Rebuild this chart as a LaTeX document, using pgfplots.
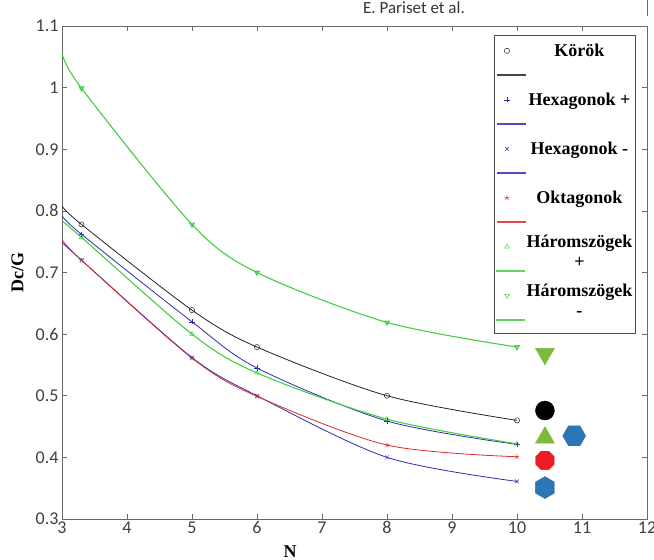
\documentclass[border=0pt]{standalone}
\usepackage{pgfplots}
\pgfplotsset{compat=1.18}
\usepackage{fontspec}
\setmainfont{Liberation Serif}
\newfontfamily\carlito{Carlito}
\usetikzlibrary{plotmarks}

\pgfdeclareplotmark{hexflat}{%
 \pgfpathmoveto{\pgfpointpolar{0}{\pgfplotmarksize}}%
 \pgfpathlineto{\pgfpointpolar{60}{\pgfplotmarksize}}%
 \pgfpathlineto{\pgfpointpolar{120}{\pgfplotmarksize}}%
 \pgfpathlineto{\pgfpointpolar{180}{\pgfplotmarksize}}%
 \pgfpathlineto{\pgfpointpolar{240}{\pgfplotmarksize}}%
 \pgfpathlineto{\pgfpointpolar{300}{\pgfplotmarksize}}%
 \pgfpathclose\pgfusepathqfillstroke}
\pgfdeclareplotmark{hexpoint}{%
 \pgfpathmoveto{\pgfpointpolar{30}{\pgfplotmarksize}}%
 \pgfpathlineto{\pgfpointpolar{90}{\pgfplotmarksize}}%
 \pgfpathlineto{\pgfpointpolar{150}{\pgfplotmarksize}}%
 \pgfpathlineto{\pgfpointpolar{210}{\pgfplotmarksize}}%
 \pgfpathlineto{\pgfpointpolar{270}{\pgfplotmarksize}}%
 \pgfpathlineto{\pgfpointpolar{330}{\pgfplotmarksize}}%
 \pgfpathclose\pgfusepathqfillstroke}
\pgfdeclareplotmark{octagon}{%
 \pgfpathmoveto{\pgfpointpolar{22.5}{\pgfplotmarksize}}%
 \pgfpathlineto{\pgfpointpolar{67.5}{\pgfplotmarksize}}%
 \pgfpathlineto{\pgfpointpolar{112.5}{\pgfplotmarksize}}%
 \pgfpathlineto{\pgfpointpolar{157.5}{\pgfplotmarksize}}%
 \pgfpathlineto{\pgfpointpolar{202.5}{\pgfplotmarksize}}%
 \pgfpathlineto{\pgfpointpolar{247.5}{\pgfplotmarksize}}%
 \pgfpathlineto{\pgfpointpolar{292.5}{\pgfplotmarksize}}%
 \pgfpathlineto{\pgfpointpolar{337.5}{\pgfplotmarksize}}%
 \pgfpathclose\pgfusepathqfillstroke}

\definecolor{cblue}{RGB}{45,45,175}
\definecolor{cred}{RGB}{215,45,45}
\definecolor{cgreen}{RGB}{70,205,70}
\definecolor{bgreen}{RGB}{125,185,60}
\definecolor{bblue}{RGB}{46,117,182}
\definecolor{bred}{RGB}{235,28,36}
\definecolor{axgray}{RGB}{105,105,105}
\definecolor{cblack}{RGB}{35,35,35}

\newcommand{\lt}[1]{\raisebox{11pt}[\height][\depth]{\makebox[106pt]{\begin{tabular}{@{}c@{}}#1\end{tabular}}}}

\pgfplotsset{lg/.style={legend image code/.code={%
  \fill[#1!85] (0pt,-13.7pt) rectangle (28pt,-12.3pt);
  \path[##1, color=#1, draw=#1, line width=0.5pt, only marks, mark indices={1}] plot coordinates {(10pt,11pt)};}}}

\begin{document}
\begin{tikzpicture}
\useasboundingbox (-62pt,-41pt) rectangle (592pt,519pt);
\node[font=\carlito\fontsize{17}{19}\selectfont, text=black!80] at (352pt,511pt) {E. Pariset et al.};
\draw[axgray, line width=0.8pt] (585pt,503pt) -- (585pt,519pt);
\begin{axis}[
  at={(0pt,0pt)}, anchor=south west,
  scale only axis, width=585pt, height=493pt,
  xmin=3, xmax=12, ymin=0.3, ymax=1.1,
  xtick={3,4,...,12}, ytick={0.3,0.4,...,1.1},
  yticklabel style={/pgf/number format/fixed, /pgf/number format/precision=1},
  /pgf/number format/assume math mode=true,
  tick label style={font=\carlito\fontsize{18}{20}\selectfont, text=black!75},
  xticklabel style={yshift=1pt},
  tick align=inside, major tick length=5pt,
  tick style={axgray, line width=0.6pt},
  axis line style={axgray, line width=0.8pt},
  xlabel={N}, ylabel={Dc/G},
  every axis y label/.style={at={(axis description cs:-0.076,0.5)}, rotate=90, anchor=center, font=\bfseries\fontsize{18}{20}\selectfont},
  every axis x label/.style={at={(axis description cs:0.39,-0.066)}, anchor=center, font=\bfseries\fontsize{18}{20}\selectfont},
  legend cell align=center,
  legend style={at={(axis description cs:0.981,0.982)}, anchor=north east,
    draw=black!70, line width=0.8pt, font=\bfseries\fontsize{18}{20}\selectfont,
    nodes={minimum height=49pt, inner sep=1pt}, row sep=0pt, inner sep=2pt},
  mark size=2.6pt,
  every axis plot/.append style={mark indices={2,3,4,5,6}, mark options={solid, line width=0.5pt}},
]
% Korok
\addplot[cblack, smooth, line width=0.8pt, mark=o, lg=cblack] coordinates {(3,0.808)(3.3,0.778)(5,0.639)(6,0.579)(8,0.500)(10,0.460)};
\addlegendentry{\lt{Körök}}
% Hexagonok +
\addplot[cblue, smooth, line width=0.8pt, mark=+, lg=cblue] coordinates {(3,0.792)(3.3,0.762)(5,0.620)(6,0.545)(8,0.459)(10,0.421)};
\addlegendentry{\lt{Hexagonok +}}
% Hexagonok -
\addplot[cblue, smooth, line width=0.8pt, mark=x, lg=cblue] coordinates {(3,0.749)(3.3,0.72)(5,0.562)(6,0.500)(8,0.400)(10,0.361)};
\addlegendentry{\lt{Hexagonok -}}
% Oktagonok
\addplot[cred, smooth, line width=0.8pt, mark=star, lg=cred] coordinates {(3,0.754)(3.3,0.72)(5,0.561)(6,0.499)(8,0.420)(10,0.401)};
\addlegendentry{\lt{Oktagonok}}
% Haromszogek +
\addplot[cgreen, smooth, line width=1.1pt, mark=triangle, lg=cgreen] coordinates {(3,0.784)(3.3,0.757)(5,0.600)(6,0.537)(8,0.462)(10,0.422)};
\addlegendentry{\lt{Háromszögek\\+}}
% Haromszogek -
\addplot[cgreen, smooth, line width=1.1pt, mark=triangle, mark options={rotate=180}, lg=cgreen] coordinates {(3,1.056)(3.3,0.999)(5,0.778)(6,0.700)(8,0.619)(10,0.579)};
\addlegendentry{\lt{Háromszögek\\-}}
% big symbols
\addplot[only marks, mark indices={}, mark=triangle*, mark size=11pt, mark options={rotate=180, fill=bgreen, draw=bgreen}, forget plot] coordinates {(10.43,0.568)};
\addplot[only marks, mark indices={}, mark=*, mark size=9.5pt, mark options={fill=black, draw=black}, forget plot] coordinates {(10.43,0.476)};
\addplot[only marks, mark indices={}, mark=triangle*, mark size=11pt, mark options={fill=bgreen, draw=bgreen}, forget plot] coordinates {(10.43,0.432)};
\addplot[only marks, mark indices={}, mark=hexflat, mark size=11.5pt, mark options={fill=bblue, draw=bblue}, forget plot] coordinates {(10.88,0.435)};
\addplot[only marks, mark indices={}, mark=octagon, mark size=10pt, mark options={fill=bred, draw=bred}, forget plot] coordinates {(10.43,0.395)};
\addplot[only marks, mark indices={}, mark=hexpoint, mark size=11pt, mark options={fill=bblue, draw=bblue}, forget plot] coordinates {(10.43,0.351)};
\end{axis}
\end{tikzpicture}
\end{document}
